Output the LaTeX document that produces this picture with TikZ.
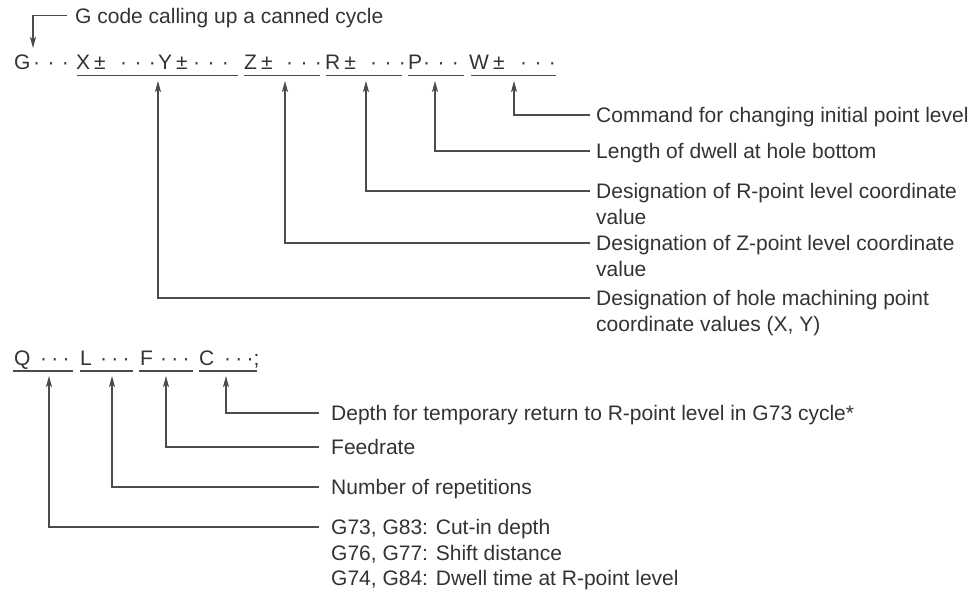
\documentclass[tikz,border=0pt]{standalone}
\usepackage{fontspec}
\setmainfont{Liberation Sans}
\usetikzlibrary{arrows.meta}
\newcommand{\mydots}{·\hspace{7.4pt}·\hspace{7.4pt}·}
\newcommand{\mysdots}{·\hspace{4.2pt}·\hspace{4.2pt}·}
\newcommand{\pmsign}{\hspace{4pt}±}
\begin{document}
\begin{tikzpicture}[x=1pt,y=-1pt,
  txt/.style={inner sep=0pt, text=black!80, font=\fontsize{21}{25.5}\selectfont},
  code/.style={txt, anchor=base west},
  lbl/.style={txt, anchor=north west, align=left},
  conn/.style={draw=black!70, line width=1.1pt, -{Stealth[length=11pt,width=6pt,inset=2.5pt]}},
  uline/.style={draw=black!70, line width=1.1pt}]
\useasboundingbox (0,0) rectangle (979,594);

% ---------- title ----------
\node[code] (title) at (75,23.5) {G code calling up a canned cycle};
\coordinate (eT) at (67,15.5);
\coordinate (aG) at (33,48);
\draw[conn] (eT) -| (aG);

% ---------- row 1 ----------
\node[code] (r1g)  at (14,69.5)  {G};
\node[code] (r1d1) at (33,69.5)  {\mydots};
\node[code] (r1x)  at (76,69.5)  {X\pmsign};
\node[code] (r1d2) at (120,69.5) {\mydots};
\node[code] (r1y)  at (158,69.5) {Y\pmsign};
\node[code] (r1d3) at (193,69.5) {\mydots};
\node[code] (r1z)  at (244,69.5) {Z\pmsign};
\node[code] (r1d4) at (286,69.5) {\mydots};
\node[code] (r1r)  at (325,69.5) {R\pmsign};
\node[code] (r1d5) at (370,69.5) {\mydots};
\node[code] (r1p)  at (408,69.5) {P};
\node[code] (r1d6) at (423,69.5) {\mydots};
\node[code] (r1w)  at (469,69.5) {W\pmsign};
\node[code] (r1d7) at (520,69.5) {\mydots};

\coordinate (u1a) at (77,75.5);  \coordinate (u1b) at (238,75.5);
\coordinate (u2a) at (244,75.5); \coordinate (u2b) at (320,75.5);
\coordinate (u3a) at (326,75.5); \coordinate (u3b) at (402,75.5);
\coordinate (u4a) at (408,75.5); \coordinate (u4b) at (464,75.5);
\coordinate (u5a) at (471,75.5); \coordinate (u5b) at (556,75.5);
\draw[uline] (u1a) -- (u1b);
\draw[uline] (u2a) -- (u2b);
\draw[uline] (u3a) -- (u3b);
\draw[uline] (u4a) -- (u4b);
\draw[uline] (u5a) -- (u5b);

\coordinate (aXY) at (158,81);
\coordinate (aZ)  at (285,81);
\coordinate (aR)  at (366,81);
\coordinate (aP)  at (435,81);
\coordinate (aW)  at (514,81);

\coordinate (eW)  at (590,115);
\coordinate (eP)  at (590,151);
\coordinate (eR)  at (590,191);
\coordinate (eZ)  at (590,243);
\coordinate (eXY) at (590,298);

\node[lbl] (tW)  at ([xshift=6pt,yshift=7.5pt]eW)  {Command for changing initial point level};
\node[lbl] (tP)  at ([xshift=6pt,yshift=7.5pt]eP)  {Length of dwell at hole bottom};
\node[lbl] (tR)  at ([xshift=6pt,yshift=7.5pt]eR)  {Designation of R-point level coordinate\\value};
\node[lbl] (tZ)  at ([xshift=6pt,yshift=7.5pt]eZ)  {Designation of Z-point level coordinate\\value};
\node[lbl] (tXY) at ([xshift=6pt,yshift=7.5pt]eXY) {Designation of hole machining point\\coordinate values (X, Y)};

\draw[conn] (eW)  -| (aW);
\draw[conn] (eP)  -| (aP);
\draw[conn] (eR)  -| (aR);
\draw[conn] (eZ)  -| (aZ);
\draw[conn] (eXY) -| (aXY);

% ---------- row 2 ----------
\node[code] (r2q)  at (14,365.5)  {Q};
\node[code] (r2d1) at (40,365.5)  {\mysdots};
\node[code] (r2l)  at (80,365.5)  {L};
\node[code] (r2d2) at (100,365.5) {\mysdots};
\node[code] (r2f)  at (140,365.5) {F};
\node[code] (r2d3) at (160,365.5) {\mysdots};
\node[code] (r2c)  at (199,365.5) {C};
\node[code] (r2d4) at (224,365.5) {\mysdots;};

\coordinate (v1a) at (13,371);  \coordinate (v1b) at (73,371);
\coordinate (v2a) at (80,371);  \coordinate (v2b) at (133,371);
\coordinate (v3a) at (139,371); \coordinate (v3b) at (193,371);
\coordinate (v4a) at (199,371); \coordinate (v4b) at (257,371);
\draw[uline] (v1a) -- (v1b);
\draw[uline] (v2a) -- (v2b);
\draw[uline] (v3a) -- (v3b);
\draw[uline] (v4a) -- (v4b);

\coordinate (aQ) at (49,376);
\coordinate (aL) at (112,376);
\coordinate (aF) at (166,376);
\coordinate (aC) at (226,376);

\coordinate (eC) at (319,413);
\coordinate (eF) at (319,447);
\coordinate (eL) at (319,487);
\coordinate (eQ) at (319,527);

\node[lbl] (tC) at ([xshift=12pt,yshift=7.5pt]eC) {Depth for temporary return to R-point level in G73 cycle*};
\node[lbl] (tF) at ([xshift=12pt,yshift=7.5pt]eF) {Feedrate};
\node[lbl] (tL) at ([xshift=12pt,yshift=7.5pt]eL) {Number of repetitions};
\node[lbl] (tQ) at ([xshift=12pt,yshift=7.5pt]eQ) {G73, G83: Cut-in depth\\G76, G77: Shift distance\\G74, G84: Dwell time at R-point level};

\draw[conn] (eC) -| (aC);
\draw[conn] (eF) -| (aF);
\draw[conn] (eL) -| (aL);
\draw[conn] (eQ) -| (aQ);
\end{tikzpicture}
\end{document}
